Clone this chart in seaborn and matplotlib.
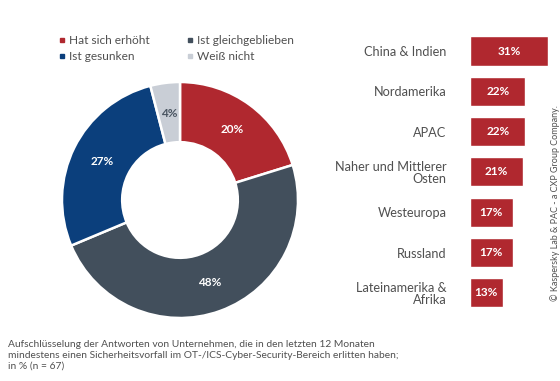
import matplotlib
matplotlib.use("Agg")
import matplotlib.pyplot as plt
from matplotlib.lines import Line2D
import seaborn as sns
import pandas as pd
import numpy as np

# ---- data ----
pie_labels = ["Hat sich erhöht", "Ist gleichgeblieben", "Ist gesunken", "Weiß nicht"]
pie_values = [20, 48, 27, 4]
pie_colors = ["#B0282F", "#424F5C", "#0B3F7C", "#C9CED6"]

regions = ["China & Indien", "Nordamerika", "APAC", "Naher und Mittlerer\nOsten",
           "Westeuropa", "Russland", "Lateinamerika &\nAfrika"]
region_values = [31, 22, 22, 21, 17, 17, 13]

caption = ("Aufschlüsselung der Antworten von Unternehmen, die in den letzten 12 Monaten\n"
           "mindestens einen Sicherheitsvorfall im OT-/ICS-Cyber-Security-Bereich erlitten haben;\n"
           "in % (n = 67)")
copyright_text = "© Kaspersky Lab & PAC - a CXP Group Company."

sns.set_theme(style="white")
plt.rcParams["font.family"] = ["Lato", "DejaVu Sans"]

W, H = 560, 381
fig = plt.figure(figsize=(W / 100, H / 100), dpi=100)
fig.patch.set_facecolor("white")

def fx(px):
    return px / W

def fy(py):
    return 1 - py / H

# ---- donut ----
cx, cy, R = 180, 200, 118
ax_pie = fig.add_axes([fx(cx - R), fy(cy + R), 2 * R / W, 2 * R / H])
wedges, _ = ax_pie.pie(pie_values, colors=pie_colors, startangle=90, counterclock=False,
                       radius=1.0, wedgeprops=dict(width=0.51, edgecolor="white", linewidth=1.8))
ax_pie.set_xlim(-1, 1)
ax_pie.set_ylim(-1, 1)
ax_pie.set_aspect("equal")
ax_pie.axis("off")
total = sum(pie_values)
ang = 90.0
for v, col in zip(pie_values, pie_colors):
    mid = ang - v / total * 360 / 2
    ang -= v / total * 360
    r = 0.74
    tc = "white" if col != "#C9CED6" else "#4A5561"
    ax_pie.text(r * np.cos(np.radians(mid)), r * np.sin(np.radians(mid)), f"{v}%",
                ha="center", va="center", color=tc, fontsize=8.5, fontweight="bold")

# ---- legend ----
handles = [Line2D([0], [0], marker="s", linestyle="none", markersize=3,
                  markerfacecolor=c, markeredgecolor=c) for c in pie_colors]
order = [0, 2, 1, 3]
fig.legend([handles[i] for i in order], [pie_labels[i] for i in order],
           loc="upper left", bbox_to_anchor=(fx(59), fy(35)), ncol=2, frameon=False,
           fontsize=8.6, handlelength=0.5, handletextpad=0.35, columnspacing=3.1,
           labelspacing=0.45, labelcolor="#505050", borderaxespad=0, borderpad=0)

# ---- bars ----
row0, step = 51, 40.3
top = row0 - step / 2
bot = top + step * len(regions)
x0 = 470
ppu = 2.52
ax_bar = fig.add_axes([fx(x0), fy(bot), 80 / W, (bot - top) / H])
df = pd.DataFrame({"region": regions, "value": region_values})
sns.barplot(data=df, x="value", y="region", orient="h", color="#B0282F",
            saturation=1, width=0.72, ax=ax_bar)
ax_bar.set_xlim(0, 80 / ppu)
ax_bar.set_ylim(len(regions) - 0.5, -0.5)
ax_bar.set_xlabel("")
ax_bar.set_ylabel("")
ax_bar.set_xticks([])
sns.despine(ax=ax_bar, left=True, bottom=True)
ax_bar.tick_params(axis="y", length=0, pad=17, labelsize=9.2, labelcolor="#505050")
for lbl in ax_bar.get_yticklabels():
    lbl.set_multialignment("right")
    lbl.set_linespacing(1.05)
for i, v in enumerate(region_values):
    ax_bar.text(v / 2, i, f"{v}%", ha="center", va="center", color="white",
                fontsize=8.5, fontweight="bold")

# ---- texts ----
fig.text(fx(8), fy(340), caption, ha="left", va="top", fontsize=7.4,
         color="#505050", linespacing=1.25)
fig.text(fx(555), fy(203), copyright_text, rotation=90, ha="center", va="center",
         fontsize=6.5, color="#505050")

fig.savefig("out.png", dpi=100)
